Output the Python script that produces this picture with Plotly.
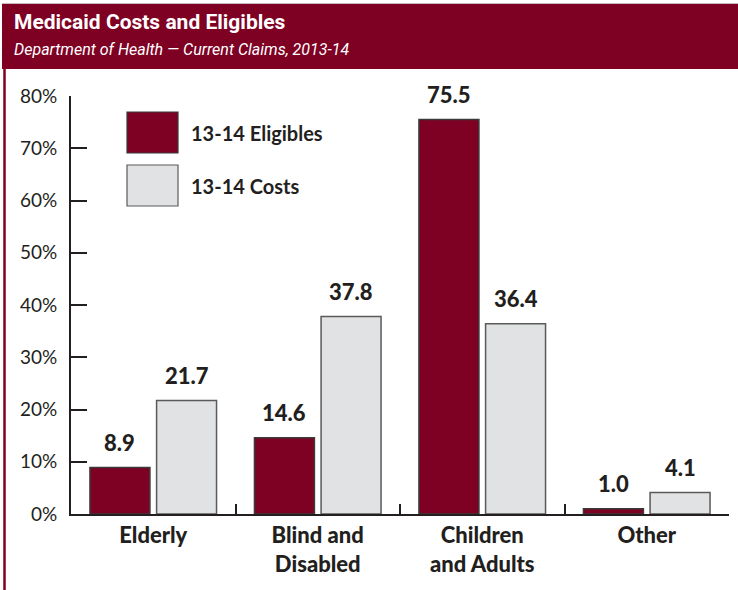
import plotly.graph_objects as go

# ---- data ----
categories = ["Elderly", "Blind and<br>Disabled", "Children<br>and Adults", "Other"]
eligibles = [8.9, 14.6, 75.5, 1.0]
costs = [21.7, 37.8, 36.4, 4.1]
series_names = ["13-14 Eligibles", "13-14 Costs"]
y_ticks = [0, 10, 20, 30, 40, 50, 60, 70, 80]
y_tick_labels = [f"{v}%" for v in y_ticks]

# ---- styling ----
W, H = 738, 590
L, R, T, B = 71, 9, 96, 76
MAROON = "#7E0023"
GRAY_FILL = "#E1E2E3"
INK = "#231F20"
BODY_FONT = "Lato, 'Open Sans', sans-serif"
HEAD_FONT = "Roboto, sans-serif"
BARGAP = 0.19
GROUPGAP = 0.10

plot_w = W - L - R
plot_h = H - T - B


def px(x):
    """pixel x -> paper x"""
    return (x - L) / plot_w


def py(y):
    """pixel y (from top) -> paper y"""
    return (H - B - y) / plot_h


fig = go.Figure()
fig.add_trace(go.Bar(
    x=categories, y=eligibles, name=series_names[0],
    marker=dict(color=MAROON, line=dict(color="#3A3A3A", width=1.5)),
    showlegend=False, hoverinfo="skip",
))
fig.add_trace(go.Bar(
    x=categories, y=costs, name=series_names[1],
    marker=dict(color=GRAY_FILL, line=dict(color="#5A5A5A", width=1.5)),
    showlegend=False, hoverinfo="skip",
))

annotations = []
# value labels above each bar
slot = (1 - BARGAP) / 2
for i, (e, c) in enumerate(zip(eligibles, costs)):
    for val, off in ((e, -slot / 2), (c, slot / 2)):
        annotations.append(dict(
            x=i + off, y=val, xref="x", yref="y", text=f"{val:.1f}",
            showarrow=False, yanchor="bottom", yshift=10,
            font=dict(family=BODY_FONT, size=22, color=INK, weight=900),
        ))

# header band with title and subtitle
shapes = [
    dict(type="rect", xref="paper", yref="paper",
         x0=px(2), x1=px(W), y0=py(69), y1=py(4),
         fillcolor=MAROON, line=dict(width=0), layer="below"),
    dict(type="line", xref="paper", yref="paper",
         x0=px(2), x1=px(W), y0=py(3.5), y1=py(3.5),
         line=dict(color="#C9B9BD", width=1)),
    dict(type="line", xref="paper", yref="paper",
         x0=px(4.5), x1=px(4.5), y0=py(4), y1=py(H),
         line=dict(color=MAROON, width=2.5)),
]
annotations.append(dict(
    x=px(12), y=py(22), xref="paper", yref="paper", xanchor="left", yanchor="middle",
    text="<b>Medicaid Costs and Eligibles</b>", showarrow=False,
    font=dict(family=HEAD_FONT, size=21, color="white"),
))
annotations.append(dict(
    x=px(12), y=py(50), xref="paper", yref="paper", xanchor="left", yanchor="middle",
    text="<i>Department of Health — Current Claims, 2013-14</i>", showarrow=False,
    font=dict(family=HEAD_FONT, size=16, color="white"),
))

# legend drawn as swatches and labels inside the plot
legend_rows = [(MAROON, "#3A3A3A", 112, 153), (GRAY_FILL, "#5A5A5A", 165, 206)]
for (fill, edge, top, bot), name in zip(legend_rows, series_names):
    shapes.append(dict(type="rect", xref="paper", yref="paper",
                       x0=px(127), x1=px(178), y0=py(bot), y1=py(top),
                       fillcolor=fill, line=dict(color=edge, width=1.2)))
    annotations.append(dict(
        x=px(189), y=py((top + bot) / 2), xref="paper", yref="paper",
        xanchor="left", yanchor="middle", text=name, showarrow=False,
        font=dict(family=BODY_FONT, size=20, color=INK, weight="bold"),
    ))

fig.update_layout(
    width=W, height=H,
    margin=dict(l=L, r=R, t=T, b=B, pad=0),
    paper_bgcolor="white", plot_bgcolor="white",
    barmode="group", bargap=BARGAP, bargroupgap=GROUPGAP,
    shapes=shapes, annotations=annotations,
    font=dict(family=BODY_FONT, color=INK),
)
fig.update_xaxes(
    showline=True, linecolor=INK, linewidth=2,
    ticks="inside", tickson="boundaries", ticklen=10, tickwidth=2, tickcolor=INK,
    tickfont=dict(family=BODY_FONT, size=22, color=INK, weight=900),
    ticklabelstandoff=1, showgrid=False, zeroline=False, fixedrange=True,
)
fig.update_yaxes(
    range=[0, 80], tickvals=y_ticks, ticktext=y_tick_labels,
    showline=True, linecolor=INK, linewidth=2,
    ticks="inside", ticklen=16, tickwidth=2, tickcolor=INK,
    tickfont=dict(family=BODY_FONT, size=19, color=INK),
    ticklabelstandoff=8, showgrid=False, zeroline=False, fixedrange=True,
)

fig.write_html("out.html")
